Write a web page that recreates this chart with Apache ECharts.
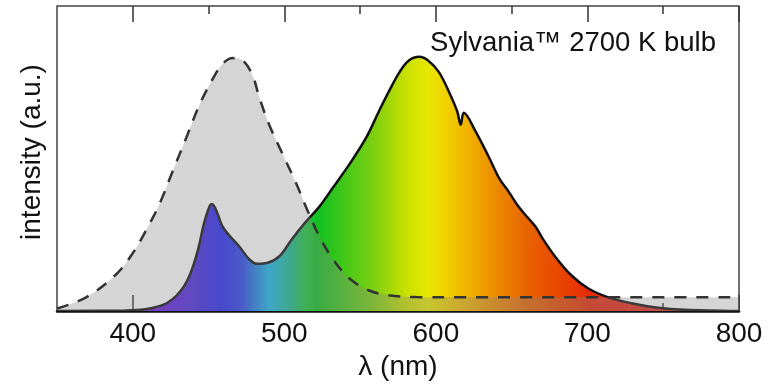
<!DOCTYPE html>
<html>
<head>
<meta charset="utf-8">
<script src="https://cdn.jsdelivr.net/npm/echarts@6/dist/echarts.min.js"></script>
<style>
  html, body { margin: 0; padding: 0; background: #fff; }
  #chart { width: 773px; height: 386px; }
</style>
</head>
<body>
<div id="chart"></div>
<script>
// Emission spectrum of the bulb (wavelength in nm, normalised intensity)
const bulbWavelength = [350, 395, 405, 411, 422, 431, 437.5, 443, 447, 450.5, 452.3, 455.5, 459, 464, 470, 477, 482, 489, 497, 505, 514, 523, 532, 543, 554, 562.5, 569, 576, 582, 589, 595, 602, 608.5, 614, 616.4, 618.4, 626, 635, 642, 648, 654.6, 661, 666, 671, 679, 689.5, 700.6, 713.8, 729, 746.7, 764, 800];
const bulbIntensity  = [0, 0.002, 0.005, 0.01, 0.03, 0.075, 0.14, 0.24, 0.345, 0.41, 0.421, 0.39, 0.335, 0.295, 0.256, 0.203, 0.186, 0.19, 0.217, 0.283, 0.35, 0.41, 0.485, 0.578, 0.682, 0.787, 0.864, 0.94, 0.985, 1.0, 0.985, 0.94, 0.864, 0.787, 0.733, 0.78, 0.709, 0.605, 0.52, 0.47, 0.41, 0.365, 0.33, 0.28, 0.212, 0.14, 0.089, 0.054, 0.031, 0.013, 0.005, 0];

// Reference blue curve (dashed, grey shaded)
const refWavelength = [350, 369.5, 389.3, 400.2, 409, 417.8, 426.5, 435.3, 444, 452.9, 459.4, 466, 472.6, 479, 483.5, 490, 499, 508, 515, 523, 532, 543, 556, 569, 587, 620, 800];
const refIntensity  = [0.01, 0.055, 0.146, 0.23, 0.32, 0.424, 0.553, 0.682, 0.811, 0.915, 0.973, 0.995, 0.986, 0.928, 0.84, 0.733, 0.616, 0.5, 0.4, 0.295, 0.205, 0.128, 0.081, 0.062, 0.055, 0.054, 0.054];

// Axis ticks
const majorTicks = [400, 500, 600, 700, 800];
const minorTicks = [450, 550, 650, 750];
const xMin = 350, xMax = 800;

// Visible-spectrum colour stops along the wavelength axis
const spectrumNm     = [350, 420, 440, 458, 472, 481, 490, 503, 514, 522, 540, 560, 580, 595, 607, 620, 640, 660, 680, 700, 720, 760, 800];
const spectrumColors = ['#6a1adf', '#661ee0', '#4a2ae0', '#2828f4', '#2a44ec', '#2080e4', '#18b8ec', '#1aba96', '#1ac63a', '#10c020', '#44c818', '#80d010', '#c8e000', '#e8e800', '#f0d000', '#f0b400', '#ec8a00', '#e86400', '#e84800', '#e82c08', '#e82818', '#e03030', '#d83838'];

const FONT = '"Liberation Sans", Arial, Helvetica, sans-serif';

const spectrumGradient = new echarts.graphic.LinearGradient(0, 0, 1, 0,
  spectrumNm.map((nm, i) => ({ offset: (nm - xMin) / (xMax - xMin), color: spectrumColors[i] })));

const pairs = (xs, ys) => xs.map((x, i) => [x, ys[i]]);

const baseX = { type: 'value', min: xMin, max: xMax, splitLine: { show: false } };
const tickStyle = { color: '#333', width: 1.5 };

const chart = echarts.init(document.getElementById('chart'), null, { renderer: 'canvas' });
chart.setOption({
  animation: false,
  backgroundColor: '#fff',
  grid: { left: 57, right: 34, top: 6, bottom: 70, show: true, borderColor: '#444', borderWidth: 1.5, backgroundColor: 'transparent' },
  xAxis: [
    Object.assign({}, baseX, {
      position: 'bottom',
      axisLine: { show: true, lineStyle: { color: '#111', width: 2.5 } },
      axisTick: { show: true, inside: true, length: 16, customValues: majorTicks, lineStyle: tickStyle },
      axisLabel: { show: true, customValues: majorTicks, margin: 9, fontSize: 28, color: '#111', fontFamily: FONT },
      name: 'λ (nm)', nameLocation: 'middle', nameGap: 38,
      nameTextStyle: { fontSize: 28, color: '#111', fontFamily: FONT }
    }),
    Object.assign({}, baseX, {
      position: 'bottom',
      axisLine: { show: false },
      axisTick: { show: true, inside: true, length: 8, customValues: minorTicks, lineStyle: tickStyle },
      axisLabel: { show: false }
    }),
    Object.assign({}, baseX, {
      position: 'top',
      axisLine: { show: false },
      axisTick: { show: true, inside: true, length: 16, customValues: majorTicks, lineStyle: tickStyle },
      axisLabel: { show: false }
    }),
    Object.assign({}, baseX, {
      position: 'top',
      axisLine: { show: false },
      axisTick: { show: true, inside: true, length: 8, customValues: minorTicks, lineStyle: tickStyle },
      axisLabel: { show: false }
    })
  ],
  yAxis: {
    type: 'value', min: 0, max: 1.2,
    axisLine: { show: false }, axisTick: { show: false }, axisLabel: { show: false }, splitLine: { show: false }
  },
  series: [
    {
      name: 'bulb',
      type: 'line',
      xAxisIndex: 0,
      data: pairs(bulbWavelength, bulbIntensity),
      showSymbol: false, symbol: 'none',
      smooth: 0.35,
      lineStyle: { color: '#111', width: 2.5 },
      areaStyle: { color: spectrumGradient, opacity: 1 },
      z: 2
    },
    {
      name: 'reference',
      type: 'line',
      xAxisIndex: 0,
      data: pairs(refWavelength, refIntensity),
      showSymbol: false, symbol: 'none',
      smooth: 0.35,
      lineStyle: { color: '#333', width: 2.5, type: [12, 10] },
      areaStyle: { color: 'rgba(135,135,135,0.35)', opacity: 1 },
      z: 3
    }
  ],
  graphic: [
    {
      type: 'text', x: 716, y: 43, z: 10,
      style: { text: 'Sylvania™ 2700 K bulb', align: 'right', verticalAlign: 'middle', font: '27.5px ' + FONT, fill: '#111' }
    },
    {
      type: 'text', x: 32, y: 152, rotation: Math.PI / 2, z: 10,
      style: { text: 'intensity (a.u.)', align: 'center', verticalAlign: 'middle', font: '28px ' + FONT, fill: '#111' }
    }
  ]
});
</script>
</body>
</html>
